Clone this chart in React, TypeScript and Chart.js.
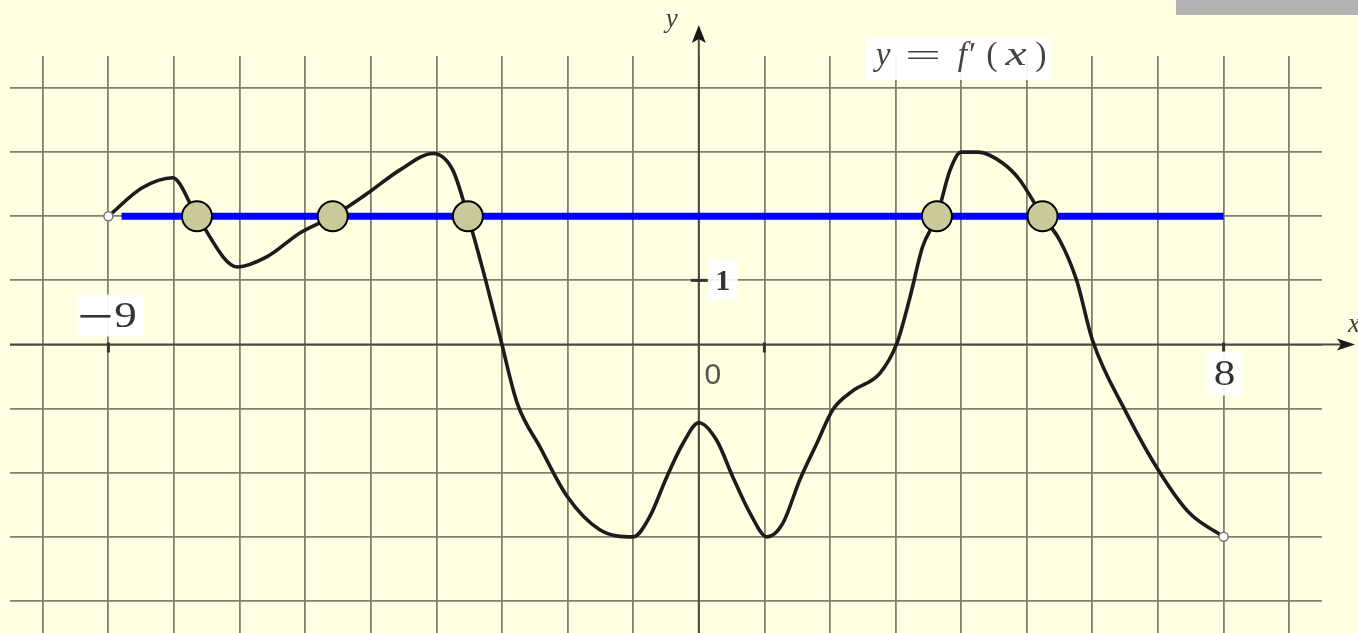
import React, { useEffect, useRef } from "react";
import { Chart, registerables } from "chart.js";

Chart.register(...registerables);

// f'(x) curve
const curveX = [-9, -8.49, -8.02, -7.65, -7.03, -6.58, -6.08, -5.58, -5.02, -4.56, -4.05, -3.75, -3.52, -3.29, -3.03, -2.77, -2.42, -2.0, -1.51, -1.0, -0.75, -0.49, -0.24, 0, 0.27, 0.52, 0.78, 1.04, 1.28, 1.54, 1.8, 2.04, 2.35, 2.76, 3.02, 3.22, 3.41, 3.63, 3.83, 4.0, 4.27, 4.63, 4.89, 5.24, 5.5, 5.76, 6.0, 6.52, 7.03, 7.48, 8.0];
const curveY = [2, 2.44, 2.6, 2.0, 1.21, 1.37, 1.74, 2.0, 2.38, 2.72, 2.98, 2.72, 2.0, 1.16, 0.12, -0.91, -1.6, -2.38, -2.89, -3.0, -2.69, -2.07, -1.54, -1.22, -1.49, -2.07, -2.63, -3.0, -2.79, -2.11, -1.54, -1.02, -0.72, -0.45, 0.02, 0.74, 1.52, 2.0, 2.72, 3.0, 3.0, 2.83, 2.57, 2.0, 1.63, 1.0, 0.07, -1.07, -2.0, -2.63, -3.0];

// horizontal line y = 2
const lineX = [-8.8, 8];
const lineY = [2, 2];

// intersection points with y = 2
const crossX = [-7.65, -5.58, -3.52, 3.63, 5.24];
const crossY = [2, 2, 2, 2, 2];

// grid / tick values
const gridX = [-10, -9, -8, -7, -6, -5, -4, -3, -2, -1, 0, 1, 2, 3, 4, 5, 6, 7, 8, 9];
const gridY = [-4, -3, -2, -1, 0, 1, 2, 3, 4];
const xTickMarks = [-9, 1, 8];
const yTickMarks = [1];

const X_MIN = -10.5;
const X_MAX = 9.5;
const Y_MIN = -4.5;
const Y_MAX = 4.5;

const serif = '"Liberation Serif", "DejaVu Serif", serif';

const overlay = {
  id: "overlay",
  beforeDatasetsDraw(chart: any) {
    const { ctx, scales } = chart;
    const xs = scales.x;
    const ys = scales.y;
    const x0 = xs.getPixelForValue(0);
    const y0 = ys.getPixelForValue(0);
    ctx.save();
    ctx.strokeStyle = "#4a4a42";
    ctx.fillStyle = "#1a1a1a";
    ctx.lineWidth = 2;
    // x axis
    ctx.beginPath();
    ctx.moveTo(chart.chartArea.left, y0);
    ctx.lineTo(1342, y0);
    ctx.stroke();
    ctx.beginPath();
    ctx.moveTo(1355, y0);
    ctx.lineTo(1337, y0 - 6);
    ctx.lineTo(1341, y0);
    ctx.lineTo(1337, y0 + 6);
    ctx.closePath();
    ctx.fill();
    // y axis
    ctx.beginPath();
    ctx.moveTo(x0, chart.chartArea.bottom);
    ctx.lineTo(x0, 38);
    ctx.stroke();
    ctx.beginPath();
    ctx.moveTo(x0, 25);
    ctx.lineTo(x0 - 7, 43);
    ctx.lineTo(x0, 39);
    ctx.lineTo(x0 + 7, 43);
    ctx.closePath();
    ctx.fill();
    // tick marks
    ctx.lineWidth = 3;
    ctx.strokeStyle = "#333";
    xTickMarks.forEach((v) => {
      const px = xs.getPixelForValue(v);
      ctx.beginPath();
      ctx.moveTo(px, y0 - 2);
      ctx.lineTo(px, y0 + 8);
      ctx.stroke();
    });
    yTickMarks.forEach((v) => {
      const py = ys.getPixelForValue(v);
      ctx.beginPath();
      ctx.moveTo(x0 - 8, py);
      ctx.lineTo(x0 + 14, py);
      ctx.stroke();
    });
    ctx.restore();
  },
  afterDraw(chart: any) {
    const { ctx, scales } = chart;
    const xs = scales.x;
    const ys = scales.y;
    const x0 = xs.getPixelForValue(0);
    const y0 = ys.getPixelForValue(0);
    ctx.save();
    ctx.textAlign = "center";
    ctx.textBaseline = "middle";

    const box = (x1: number, y1: number, x2: number, y2: number) => {
      ctx.fillStyle = "rgba(255,255,255,0.92)";
      ctx.fillRect(x1, y1, x2 - x1, y2 - y1);
    };
    const wide = (t: string, cx: number, cy: number, font: string, sx: number, color: string) => {
      ctx.save();
      ctx.font = font;
      ctx.fillStyle = color;
      ctx.translate(cx, cy);
      ctx.scale(sx, 1);
      ctx.fillText(t, 0, 0);
      ctx.restore();
    };

    // -9 label
    const pm9 = xs.getPixelForValue(-9);
    const cy9 = y0 - 28;
    box(pm9 - 30, cy9 - 22, pm9 + 35, cy9 + 20);
    ctx.fillStyle = "#333";
    ctx.fillRect(pm9 - 28, cy9 - 1.5, 30, 2.6);
    wide("9", pm9 + 17, cy9 + 1, `36px ${serif}`, 1.25, "#333");
    // 8 label
    const p8 = xs.getPixelForValue(8);
    box(p8 - 17, y0 + 7, p8 + 18, y0 + 51);
    wide("8", p8 + 1, y0 + 31, `36px ${serif}`, 1.2, "#333");
    // 1 on y axis
    const y1 = ys.getPixelForValue(1);
    box(x0 + 9, y1 - 21, x0 + 39, y1 + 20);
    ctx.font = `bold 30px ${serif}`;
    ctx.fillStyle = "#333";
    ctx.fillText("1", x0 + 24, y1 + 2);
    // 0
    ctx.font = '30px "Liberation Sans", sans-serif';
    ctx.fillStyle = "#555";
    ctx.fillText("0", x0 + 14, y0 + 31);
    // axis names
    ctx.font = `italic 27px ${serif}`;
    ctx.fillStyle = "#444";
    ctx.fillText("y", x0 - 27, 20);
    ctx.fillText("x", 1354, y0 - 20);

    // function label  y = f'(x)
    box(866, 38, 1052, 80);
    ctx.fillStyle = "#444";
    ctx.font = `italic 33px ${serif}`;
    ctx.fillText("y", 883, 56);
    ctx.fillText("f\u2032", 966, 56);
    wide("x", 1016, 56, `italic 34px ${serif}`, 1.4, "#444");
    ctx.font = `34px ${serif}`;
    ctx.fillStyle = "#444";
    ctx.fillText("(", 992, 56);
    ctx.fillText(")", 1041, 56);
    wide("=", 923, 58, `32px ${serif}`, 2, "#444");

    // grey block top right
    ctx.fillStyle = "#b3b3b3";
    ctx.fillRect(1176, 0, 182, 15);
    ctx.restore();
  },
};

export default function App() {
  const ref = useRef<HTMLCanvasElement | null>(null);
  useEffect(() => {
    if (!ref.current) return;
    const endRadius = curveX.map((_, i) => (i === 0 || i === curveX.length - 1 ? 4.5 : 0));
    const chart = new Chart(ref.current, {
      type: "scatter",
      data: {
        datasets: [
          {
            label: "cross",
            data: crossX.map((x, i) => ({ x, y: crossY[i] })),
            showLine: false,
            pointRadius: 15,
            pointBackgroundColor: "#c9c99a",
            pointBorderColor: "#000",
            pointBorderWidth: 2,
          },
          {
            label: "y=2",
            data: lineX.map((x, i) => ({ x, y: lineY[i] })),
            showLine: true,
            borderColor: "#0000ff",
            borderWidth: 7,
            borderCapStyle: "butt",
            pointRadius: 0,
          },
          {
            label: "f'",
            data: curveX.map((x, i) => ({ x, y: curveY[i] })),
            showLine: true,
            borderColor: "#1c1c1c",
            borderWidth: 3.6,
            cubicInterpolationMode: "monotone",
            pointRadius: endRadius,
            pointBackgroundColor: "#ffffff",
            pointBorderColor: "#777",
            pointBorderWidth: 1.5,
          },
        ],
      },
      options: {
        responsive: false,
        animation: false,
        events: [],
        layout: { autoPadding: false, padding: { left: 10, right: 36, top: 56, bottom: 0 } },
        plugins: { legend: { display: false }, tooltip: { enabled: false } },
        scales: {
          x: {
            type: "linear",
            min: X_MIN,
            max: X_MAX,
            afterBuildTicks: (s: any) => {
              s.ticks = gridX.map((v) => ({ value: v }));
            },
            ticks: { display: false },
            grid: { color: "#80806f", lineWidth: 1.8, drawTicks: false },
            border: { display: false },
          },
          y: {
            type: "linear",
            min: Y_MIN,
            max: Y_MAX,
            afterBuildTicks: (s: any) => {
              s.ticks = gridY.map((v) => ({ value: v }));
            },
            ticks: { display: false },
            grid: { color: "#80806f", lineWidth: 1.8, drawTicks: false },
            border: { display: false },
          },
        },
      },
      plugins: [overlay],
    } as any);
    return () => chart.destroy();
  }, []);
  return (
    <div style={{ position: "fixed", left: 0, top: 0, width: 1358, height: 633, background: "#ffffe1" }}>
      <canvas ref={ref} width={1358} height={633} style={{ display: "block" }} />
    </div>
  );
}
